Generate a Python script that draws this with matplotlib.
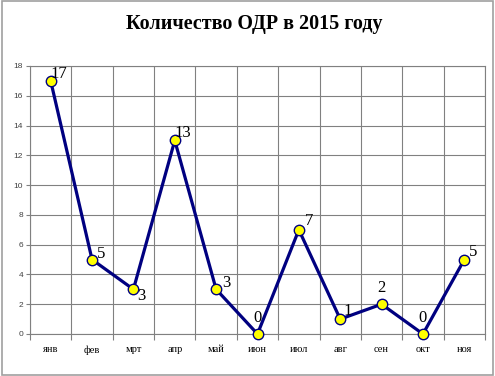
import matplotlib

matplotlib.use("Agg")
import matplotlib.pyplot as plt  # noqa: E402
import numpy as np  # noqa: E402
from matplotlib.patches import Rectangle  # noqa: E402

# data
months = ["янв", "фев", "мрт", "апр", "май", "июн", "июл", "авг", "сен", "окт", "ноя"]
counts = [17, 5, 3, 13, 3, 0, 7, 1, 2, 0, 5]
y_ticks = [0, 2, 4, 6, 8, 10, 12, 14, 16, 18]

# label offsets in pixels (dx, dy), Excel-like placement
offsets = [(8, 7), (9, 6), (8, -7), (8, 7), (10, 6), (0, 16), (10, 9), (7, 8), (0, 16), (0, 16), (9, 8)]

NAVY = "#000080"
GRID = "#808080"
SERIF = "Liberation Serif"

fig = plt.figure(figsize=(4.95, 3.76), dpi=100)
ax = fig.add_axes([30 / 495, 1 - 334 / 376, 455 / 495, 268 / 376])

x = np.arange(len(months))
ax.plot(x, counts, color=NAVY, lw=2.3, zorder=3, clip_on=False)
ax.plot(x, counts, ls="none", marker="o", ms=7.5, mfc="#ffff00", mec=NAVY, mew=1.0,
        zorder=4, clip_on=False)

for xi, v, (dx, dy) in zip(x, counts, offsets):
    ax.annotate(str(v), (xi, v), xytext=(dx, dy), textcoords="offset pixels",
                ha="center", va="center", fontsize=12, family=SERIF, zorder=5)

ax.set_xlim(-0.5, len(months) - 0.5)
ax.set_ylim(0, 18)
ax.set_yticks(y_ticks)
ax.set_yticklabels([str(t) for t in y_ticks], fontsize=6, color="#404040", family="Liberation Sans")
ax.set_xticks(x)
ax.set_xticklabels(months, fontsize=7.5, family=SERIF)
ax.set_xticks(np.arange(len(months) + 1) - 0.5, minor=True)
ax.tick_params(axis="x", which="major", length=0, pad=8)
ax.tick_params(axis="x", which="minor", length=4, color=GRID, width=0.8)
ax.tick_params(axis="y", length=3, color=GRID, width=0.8, pad=2)

ax.grid(axis="y", which="major", color=GRID, lw=0.8)
ax.grid(axis="x", which="minor", color=GRID, lw=0.8)
ax.set_axisbelow(True)
for s in ax.spines.values():
    s.set_color(GRID)
    s.set_linewidth(0.8)

fig.text(254 / 495, 1 - 24 / 376, "Количество ОДР в 2015 году", ha="center", va="center",
         fontsize=14.5, fontweight="bold", family=SERIF)

# outer chart frame
fig.patches.append(Rectangle((2 / 495, 0.002), 491 / 495, 0.996, transform=fig.transFigure,
                             fill=False, ec="#a0a0a0", lw=1.2))

fig.savefig("out.png", dpi=100)
